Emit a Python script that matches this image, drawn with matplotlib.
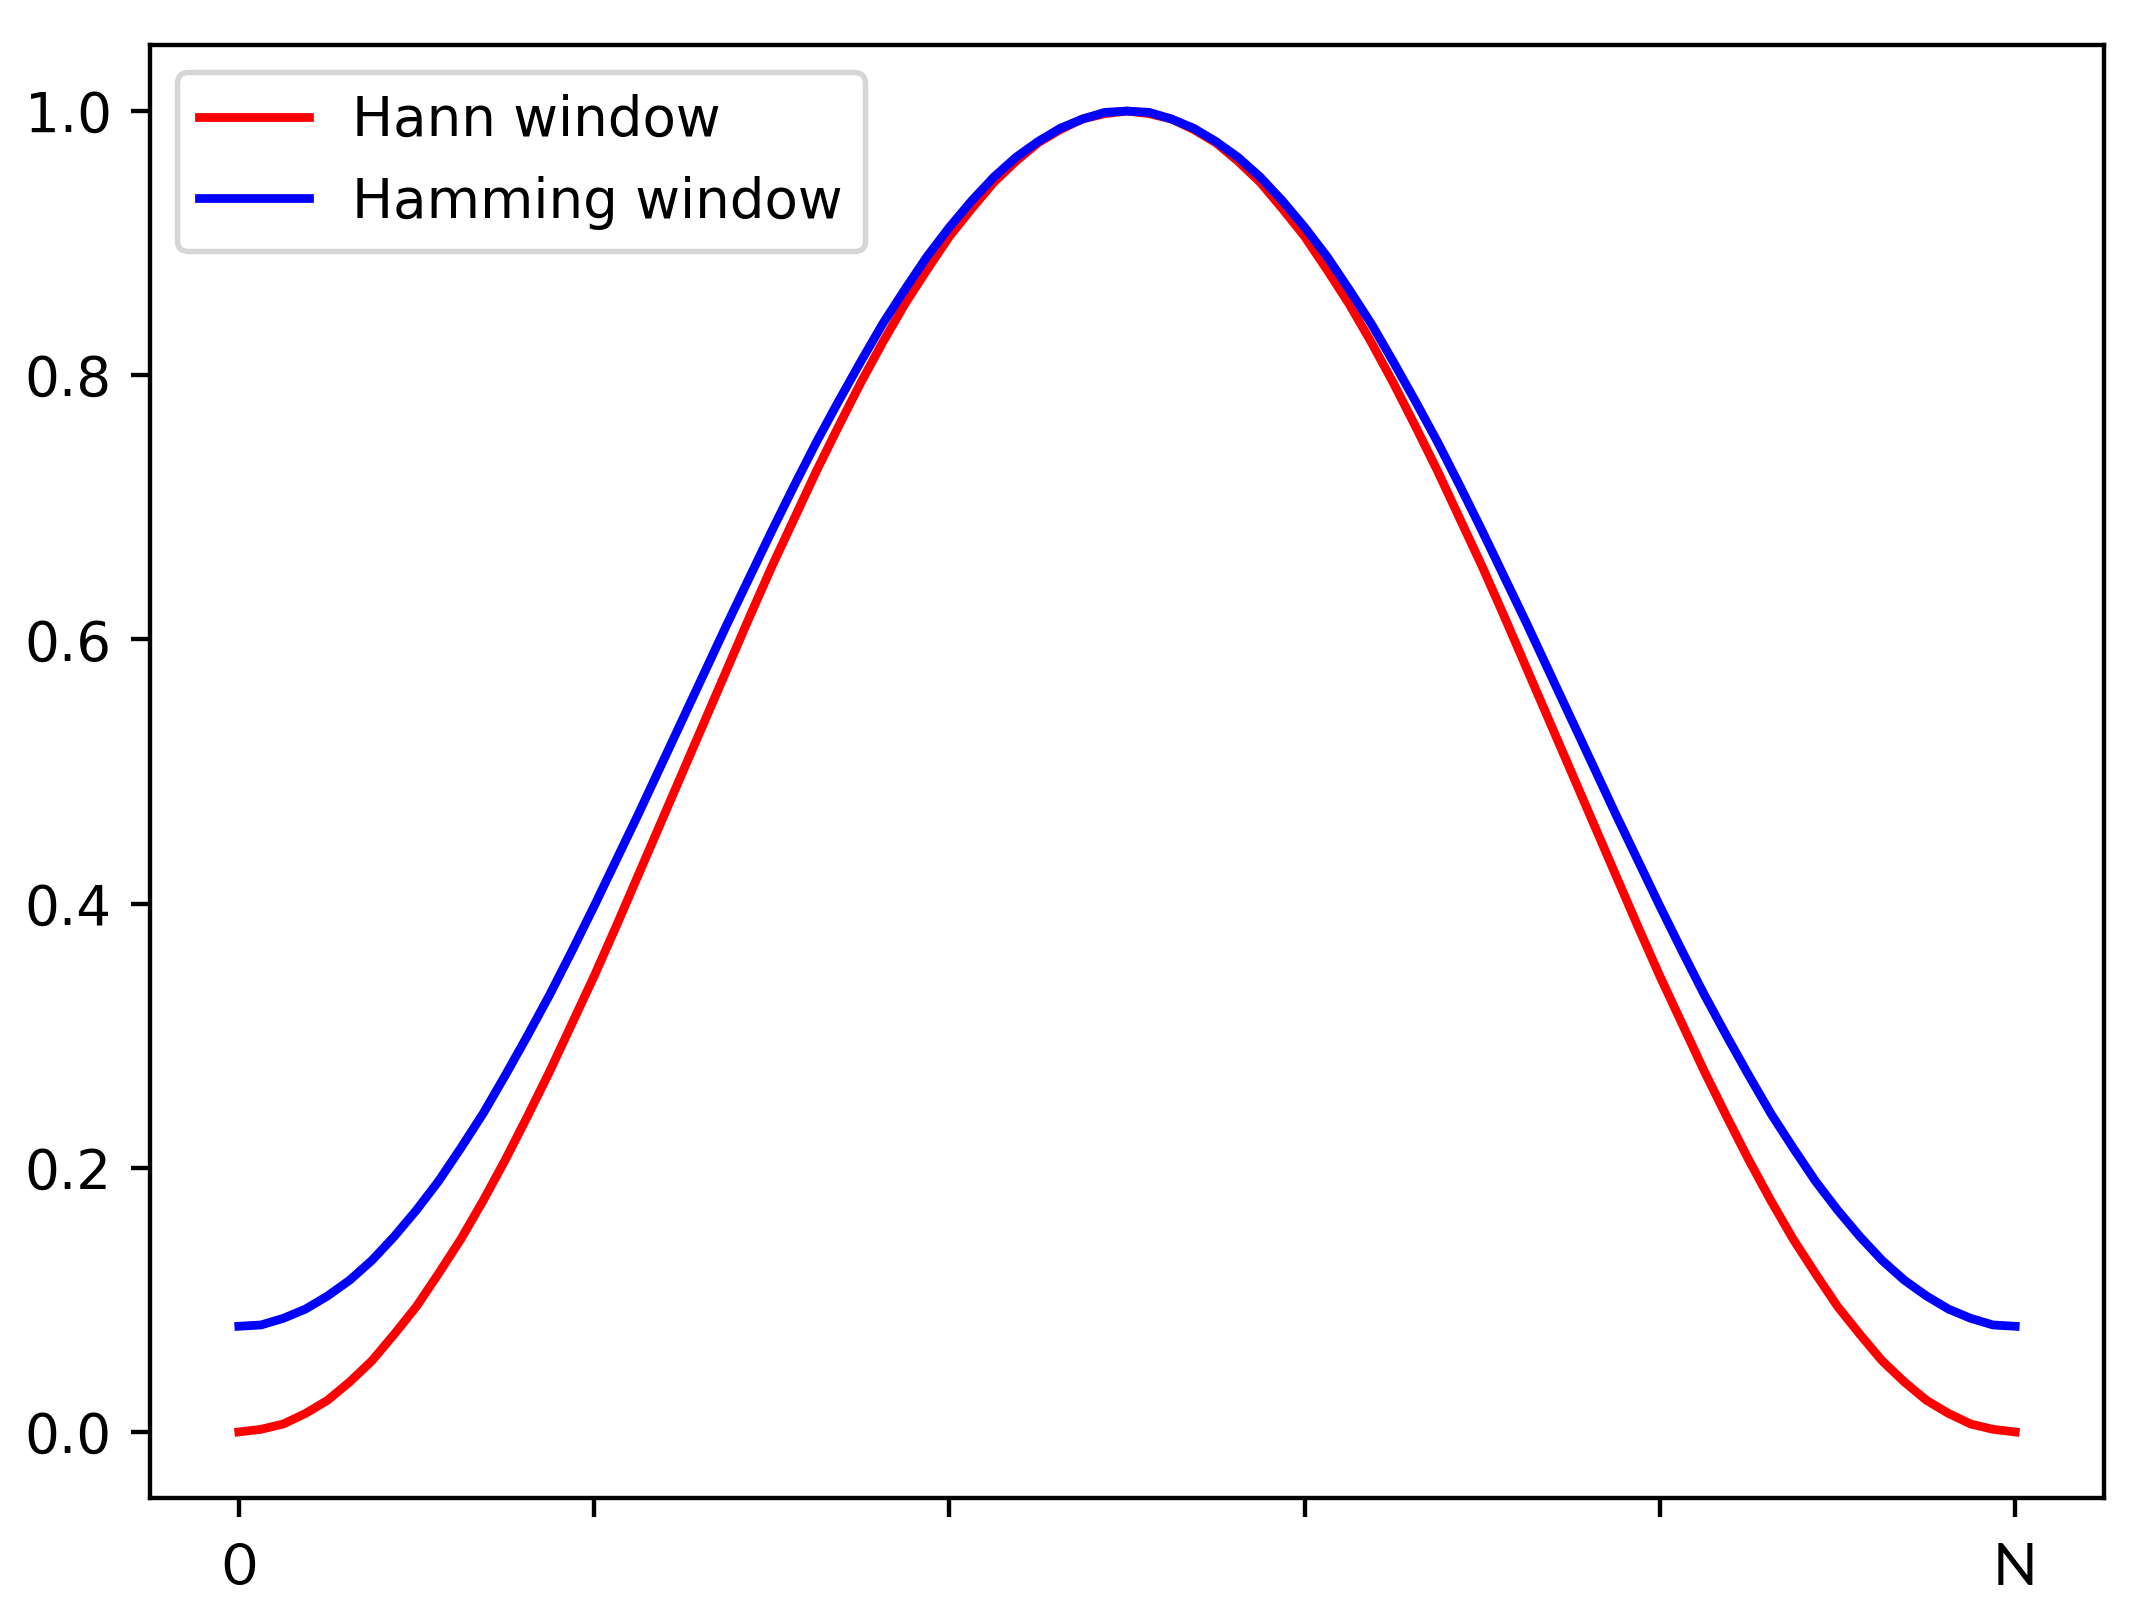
import matplotlib
matplotlib.use("Agg")
import matplotlib.pyplot as plt

# sample positions (fraction of the window length 0..N)
x_pos = [0.0000, 0.0125, 0.0250, 0.0375, 0.0500, 0.0625, 0.0750, 0.0875, 0.1000, 0.1125,
         0.1250, 0.1375, 0.1500, 0.1625, 0.1750, 0.1875, 0.2000, 0.2125, 0.2250, 0.2375,
         0.2500, 0.2625, 0.2750, 0.2875, 0.3000, 0.3125, 0.3250, 0.3375, 0.3500, 0.3625,
         0.3750, 0.3875, 0.4000, 0.4125, 0.4250, 0.4375, 0.4500, 0.4625, 0.4750, 0.4875,
         0.5000,
         0.5125, 0.5250, 0.5375, 0.5500, 0.5625, 0.5750, 0.5875, 0.6000, 0.6125, 0.6250,
         0.6375, 0.6500, 0.6625, 0.6750, 0.6875, 0.7000, 0.7125, 0.7250, 0.7375, 0.7500,
         0.7625, 0.7750, 0.7875, 0.8000, 0.8125, 0.8250, 0.8375, 0.8500, 0.8625, 0.8750,
         0.8875, 0.9000, 0.9125, 0.9250, 0.9375, 0.9500, 0.9625, 0.9750, 0.9875, 1.0000]

hann = [0.000, 0.002, 0.006, 0.014, 0.024, 0.038, 0.054, 0.074, 0.095, 0.120,
        0.146, 0.175, 0.206, 0.239, 0.273, 0.309, 0.345, 0.383, 0.422, 0.461,
        0.500, 0.539, 0.578, 0.617, 0.655, 0.691, 0.727, 0.761, 0.794, 0.825,
        0.854, 0.880, 0.905, 0.926, 0.946, 0.962, 0.976, 0.986, 0.994, 0.998,
        1.000,
        0.998, 0.994, 0.986, 0.976, 0.962, 0.946, 0.926, 0.905, 0.880, 0.854,
        0.825, 0.794, 0.761, 0.727, 0.691, 0.655, 0.617, 0.578, 0.539, 0.500,
        0.461, 0.422, 0.383, 0.345, 0.309, 0.273, 0.239, 0.206, 0.175, 0.146,
        0.120, 0.095, 0.074, 0.054, 0.038, 0.024, 0.014, 0.006, 0.002, 0.000]

hamming = [0.080, 0.081, 0.086, 0.093, 0.103, 0.115, 0.130, 0.148, 0.168, 0.190,
           0.215, 0.241, 0.270, 0.300, 0.331, 0.364, 0.398, 0.433, 0.468, 0.504,
           0.540, 0.576, 0.612, 0.647, 0.682, 0.716, 0.749, 0.780, 0.810, 0.839,
           0.865, 0.890, 0.912, 0.932, 0.950, 0.965, 0.977, 0.987, 0.994, 0.999,
           1.000,
           0.999, 0.994, 0.987, 0.977, 0.965, 0.950, 0.932, 0.912, 0.890, 0.865,
           0.839, 0.810, 0.780, 0.749, 0.716, 0.682, 0.647, 0.612, 0.576, 0.540,
           0.504, 0.468, 0.433, 0.398, 0.364, 0.331, 0.300, 0.270, 0.241, 0.215,
           0.190, 0.168, 0.148, 0.130, 0.115, 0.103, 0.093, 0.086, 0.081, 0.080]

x_ticks = [0.0, 0.2, 0.4, 0.6, 0.8, 1.0]
x_ticklabels = ["0", "", "", "", "", "N"]
y_ticks = [0.0, 0.2, 0.4, 0.6, 0.8, 1.0]
series_labels = ["Hann window", "Hamming window"]

DPI = 394
fig = plt.figure(figsize=(2136 / DPI, 1623 / DPI), dpi=DPI)
ax = fig.add_axes([150 / 2136, 1 - 1498 / 1623, (2104 - 150) / 2136, (1498 - 45) / 1623])

ax.plot(x_pos, hann, color="red", linewidth=1.6, label=series_labels[0])
ax.plot(x_pos, hamming, color="blue", linewidth=1.6, label=series_labels[1])

ax.set_xticks(x_ticks)
ax.set_xticklabels(x_ticklabels, fontfamily="Lato", fontsize=10.7)
ax.tick_params(axis="x", pad=4.5)
ax.set_yticks(y_ticks)

ax.legend(loc="upper left")

fig.savefig("out.png", dpi=DPI)
